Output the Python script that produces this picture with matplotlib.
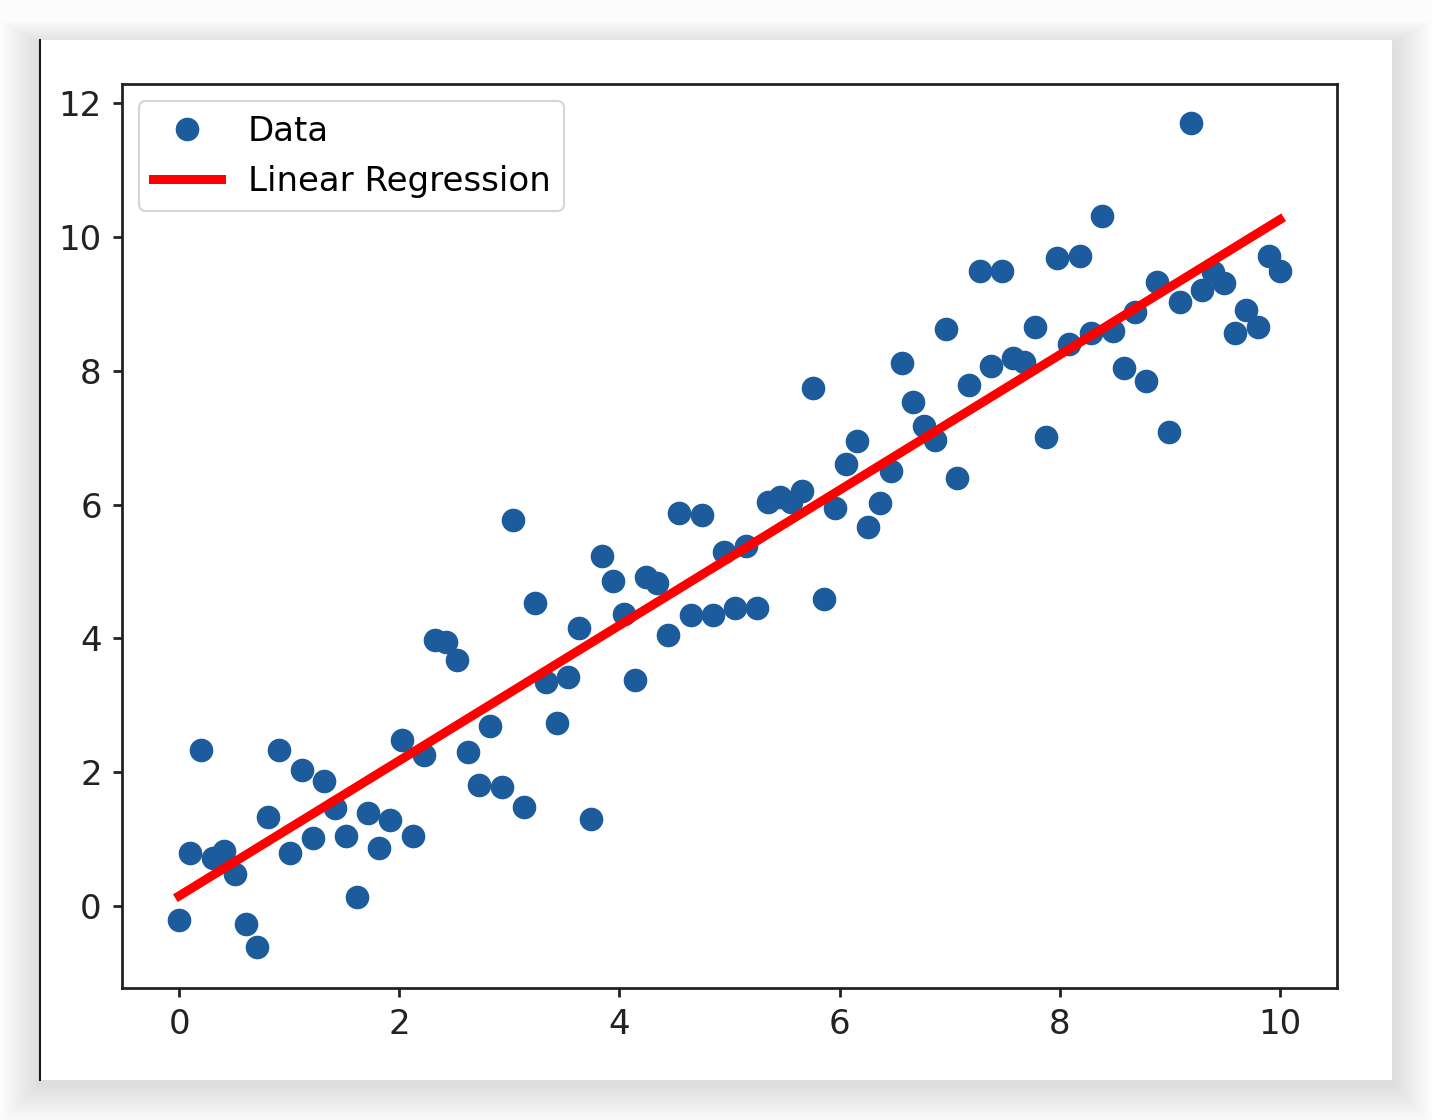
import numpy as np
import matplotlib
matplotlib.use("Agg")
import matplotlib.pyplot as plt
from matplotlib.patches import Rectangle

n_points = 100
x_start, x_stop = 0, 10
y_values = [
    -0.21, 0.79, 2.33, 0.72, 0.82, 0.47, -0.28, -0.62, 1.33, 2.33,
    0.79, 2.03, 1.02, 1.86, 1.46, 1.05, 0.13, 1.38, 0.86, 1.29,
    2.48, 1.05, 2.26, 3.98, 3.95, 3.68, 2.30, 1.81, 2.69, 1.78,
    5.77, 1.48, 4.53, 3.35, 2.74, 3.42, 4.16, 1.30, 5.23, 4.86,
    4.36, 3.38, 4.92, 4.83, 4.05, 5.87, 4.35, 5.84, 4.35, 5.29,
    4.45, 5.38, 4.45, 6.04, 6.11, 6.04, 6.20, 7.74, 4.59, 5.95,
    6.61, 6.95, 5.67, 6.02, 6.50, 8.12, 7.53, 7.17, 6.97, 8.62,
    6.40, 7.79, 9.50, 8.07, 9.50, 8.19, 8.13, 8.65, 7.01, 9.69,
    8.40, 9.72, 8.56, 10.31, 8.59, 8.04, 8.88, 7.85, 9.33, 7.09,
    9.03, 11.70, 9.21, 9.48, 9.31, 8.56, 8.91, 8.65, 9.72, 9.50,
]
x_ticks = [0, 2, 4, 6, 8, 10]
y_ticks = [0, 2, 4, 6, 8, 10, 12]

x = np.linspace(x_start, x_stop, n_points)
y = np.array(y_values)
slope, intercept = np.polyfit(x, y, 1)

W, H = 1432, 1120
fig = plt.figure(figsize=(W / 100, H / 100), dpi=100)
fig.patch.set_facecolor("#fcfcfd")

# card with a soft drop shadow (mostly below)
cx0, cx1, cy0, cy1 = 40, 1392, 40, 1080
for k in range(30, 0, -1):
    sp = k * 1.3
    fig.patches.append(Rectangle(
        ((cx0 - sp) / W, 1 - (cy1 + sp + 4) / H),
        (cx1 - cx0 + 2 * sp) / W, (cy1 - cy0 + 1.6 * sp) / H,
        transform=fig.transFigure, facecolor="#000000", alpha=0.0045,
        edgecolor="none", zorder=-10))
fig.patches.append(Rectangle((cx0 / W, 1 - cy1 / H), (cx1 - cx0) / W, (cy1 - cy0) / H,
                             transform=fig.transFigure, facecolor="white",
                             edgecolor="none", zorder=-5))
fig.lines.append(plt.Line2D([cx0 / W, cx0 / W], [1 - cy1 / H, 1 - cy0 / H],
                            transform=fig.transFigure, color="#1a1a1a", lw=1.5))

ax = fig.add_axes([122 / W, 1 - 988 / H, (1337 - 122) / W, (988 - 84) / H])
ax.set_facecolor("white")

ax.plot(x, y, "o", color="#1c5c9c", markersize=16, label="Data")
ax.plot(x, slope * x + intercept, color="#ff0000", lw=6.5, label="Linear Regression")

ax.set_xticks(x_ticks)
ax.set_yticks(y_ticks)
ax.set_xlim(-0.52, 10.52)
ax.set_ylim(-1.23, 12.29)
ax.tick_params(labelsize=24.5, length=6.5, width=2, colors="#222222", pad=8)
for s in ax.spines.values():
    s.set_linewidth(2)
    s.set_color("#222222")

leg = ax.legend(loc="upper left", fontsize=24.5, handlelength=2.0,
                borderpad=0.4, labelspacing=0.5, handletextpad=0.8,
                borderaxespad=0.5, framealpha=0.8)
leg.get_frame().set_linewidth(1.5)
leg.get_frame().set_edgecolor("#cccccc")

fig.savefig("out.png", dpi=100, facecolor=fig.get_facecolor())
